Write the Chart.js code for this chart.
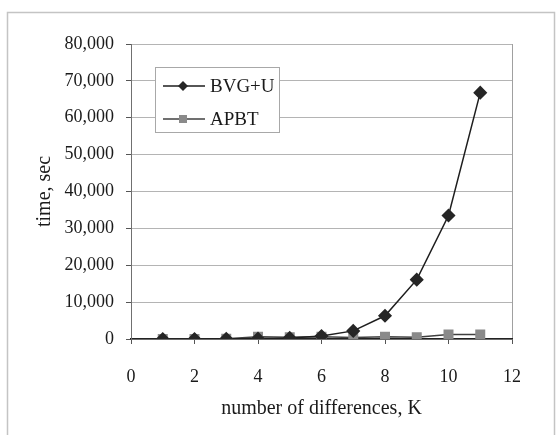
<!DOCTYPE html>
<html>
<head>
<meta charset="utf-8">
<script src="https://cdn.jsdelivr.net/npm/chart.js@4/dist/chart.umd.min.js"></script>
<style>
  html, body { margin: 0; padding: 0; background: #ffffff; }
  #wrap { position: relative; width: 559px; height: 435px; }
  canvas { display: block; }
</style>
</head>
<body>
<div id="wrap"><canvas id="c" width="559" height="435"></canvas></div>
<script>
const kValues = [1, 2, 3, 4, 5, 6, 7, 8, 9, 10, 11];
const bvgU = [0, 0, 50, 100, 300, 800, 2200, 6300, 16100, 33500, 66800];
const apbt = [0, 0, 100, 600, 500, 600, 400, 600, 500, 1200, 1200];
const seriesNames = ['BVG+U', 'APBT'];
const xTicks = [0, 2, 4, 6, 8, 10, 12];
const yTicks = [0, 10000, 20000, 30000, 40000, 50000, 60000, 70000, 80000];

const FONT = 'Liberation Serif, Times New Roman, serif';

function pts(xs, ys) { return xs.map((x, i) => ({ x: x, y: ys[i] })); }

const frame = {
  id: 'frame',
  beforeDraw(chart) {
    const ctx = chart.ctx;
    ctx.save();
    ctx.strokeStyle = '#c4c4c4';
    ctx.lineWidth = 1.5;
    ctx.strokeRect(7.5, 12.5, 547, 430);
    ctx.restore();
  }
};

const innerLegend = {
  id: 'innerLegend',
  afterDraw(chart) {
    const ctx = chart.ctx;
    const x0 = 155, y0 = 67, w = 124, h = 65;
    ctx.save();
    ctx.fillStyle = '#ffffff';
    ctx.fillRect(x0, y0, w, h);
    ctx.strokeStyle = '#a8a8a8';
    ctx.lineWidth = 1;
    ctx.strokeRect(x0 + 0.5, y0 + 0.5, w, h);
    const rows = [86, 119];
    chart.data.datasets.forEach((ds, i) => {
      const y = rows[i];
      ctx.strokeStyle = ds.borderColor;
      ctx.lineWidth = 1.5;
      ctx.beginPath();
      ctx.moveTo(163, y);
      ctx.lineTo(205, y);
      ctx.stroke();
      ctx.fillStyle = ds.pointBackgroundColor;
      ctx.beginPath();
      if (ds.pointStyle === 'rectRot') {
        ctx.moveTo(183, y - 5); ctx.lineTo(188, y); ctx.lineTo(183, y + 5); ctx.lineTo(178, y);
      } else {
        ctx.rect(179, y - 4, 8, 8);
      }
      ctx.closePath();
      ctx.fill();
      ctx.fillStyle = '#1a1a1a';
      ctx.font = '19px ' + FONT;
      ctx.textBaseline = 'middle';
      ctx.textAlign = 'left';
      ctx.fillText(ds.label, 210, y + 1);
    });
    ctx.restore();
  }
};

new Chart(document.getElementById('c'), {
  type: 'scatter',
  data: {
    datasets: [
      {
        label: seriesNames[0],
        data: pts(kValues, bvgU),
        showLine: true,
        borderColor: '#1e1e1e',
        backgroundColor: '#1e1e1e',
        pointBackgroundColor: '#262626',
        pointBorderColor: '#262626',
        pointStyle: 'rectRot',
        pointRadius: 6,
        borderWidth: 1.5
      },
      {
        label: seriesNames[1],
        data: pts(kValues, apbt),
        showLine: true,
        borderColor: '#404040',
        backgroundColor: '#888888',
        pointBackgroundColor: '#8a8a8a',
        pointBorderColor: '#8a8a8a',
        pointStyle: 'rect',
        pointRadius: 6,
        borderWidth: 1.5
      }
    ]
  },
  options: {
    responsive: false,
    animation: false,
    layout: { padding: { left: 0, right: 47, top: 44, bottom: 0 } },
    plugins: { legend: { display: false }, tooltip: { enabled: false } },
    scales: {
      x: {
        type: 'linear',
        min: 0, max: 12,
        afterBuildTicks(scale) { scale.ticks = xTicks.map(v => ({ value: v })); },
        afterFit(scale) { scale.height = 96; },
        border: { color: '#222222', width: 1.5 },
        grid: {
          color: ctx => (ctx.tick && ctx.tick.value === 12) ? '#a0a0a0' : 'rgba(0,0,0,0)',
          tickColor: '#555555',
          tickLength: 5,
          drawTicks: true
        },
        ticks: {
          padding: 22,
          color: '#1a1a1a',
          font: { family: FONT, size: 18 },
          maxRotation: 0,
          callback: v => String(v)
        },
        title: {
          display: true,
          text: 'number of differences, K',
          color: '#1a1a1a',
          font: { family: FONT, size: 20 },
          padding: { top: 0, bottom: 14 }
        }
      },
      y: {
        type: 'linear',
        min: 0, max: 80000,
        afterBuildTicks(scale) { scale.ticks = yTicks.map(v => ({ value: v })); },
        afterFit(scale) { scale.width = 131; },
        border: { color: '#707070', width: 1 },
        grid: {
          color: '#b4b4b4',
          tickColor: '#555555',
          tickLength: 5,
          lineWidth: 1
        },
        ticks: {
          padding: 12,
          color: '#1a1a1a',
          font: { family: FONT, size: 18 },
          callback: v => v.toLocaleString('en-US')
        },
        title: {
          display: true,
          text: 'time, sec',
          color: '#1a1a1a',
          font: { family: FONT, size: 20 },
          padding: { top: 33, bottom: 0 }
        }
      }
    }
  },
  plugins: [frame, innerLegend]
});
</script>
</body>
</html>
